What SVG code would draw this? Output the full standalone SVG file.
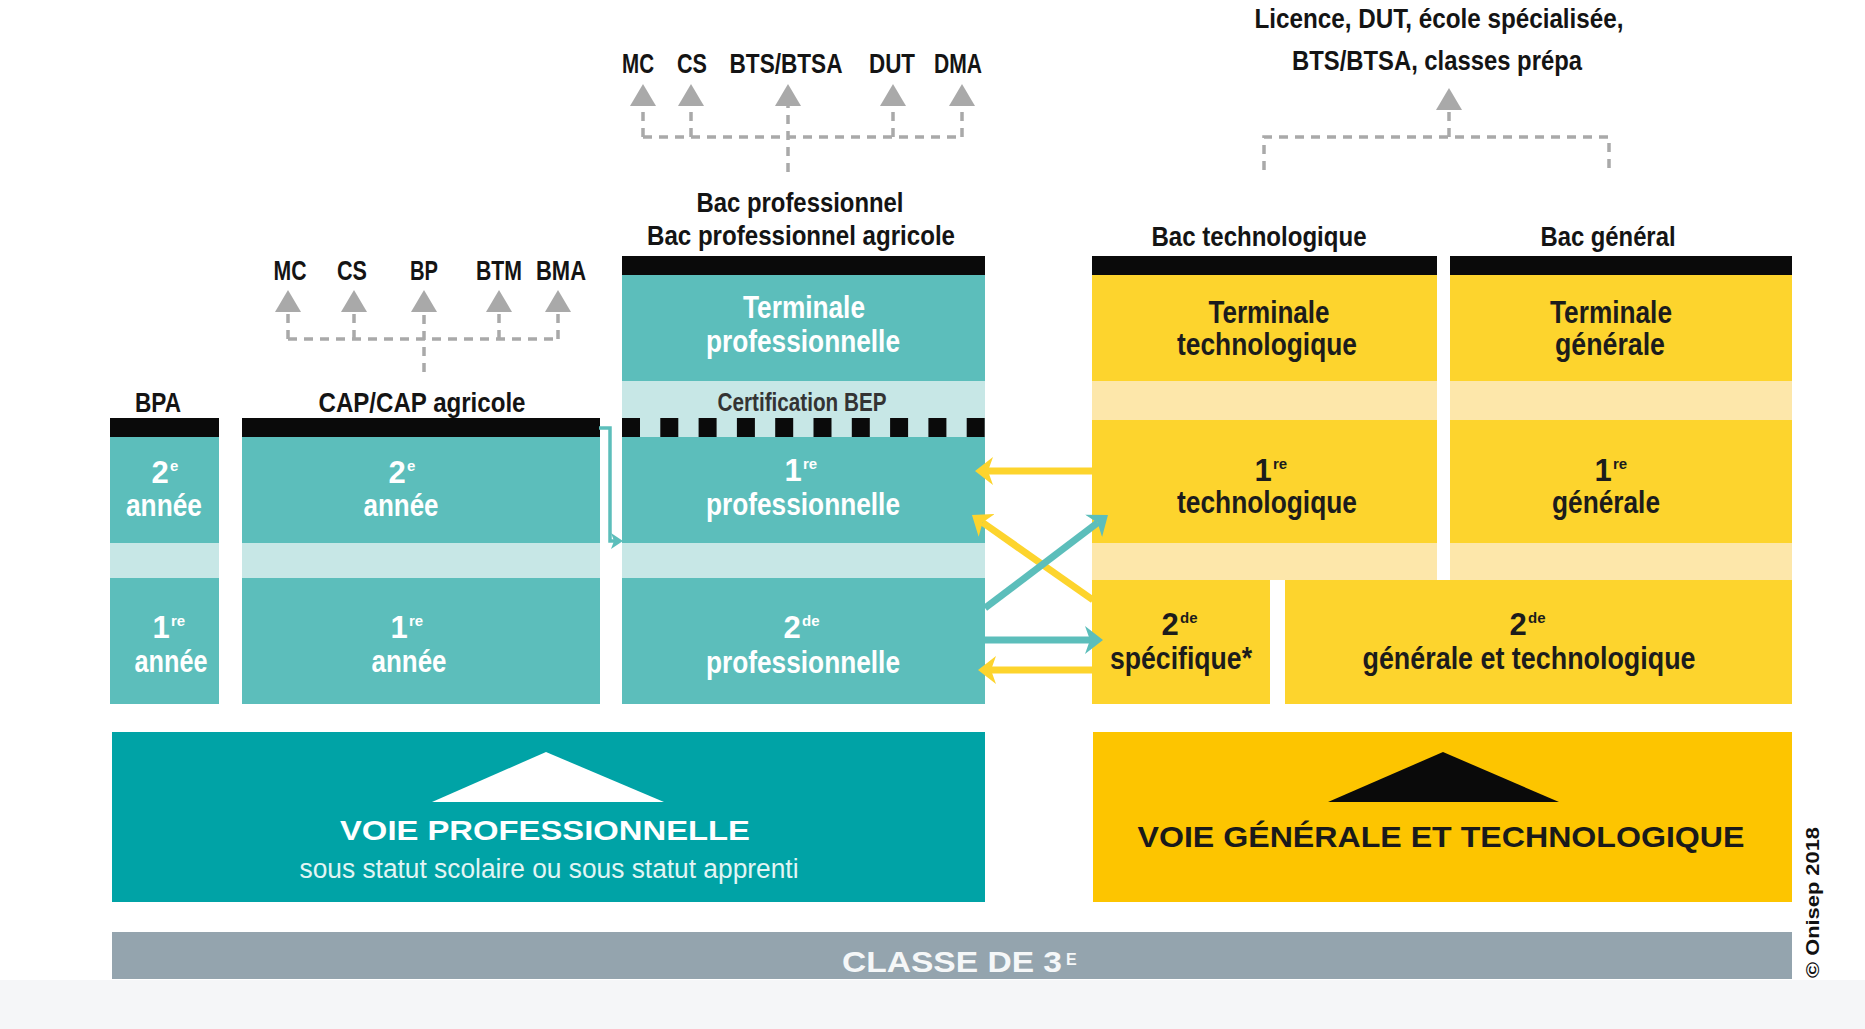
<svg xmlns="http://www.w3.org/2000/svg" width="1865" height="1029" viewBox="0 0 1865 1029">
  <defs>
    <style>
      text { font-family: "Liberation Sans Narrow", "Liberation Sans", Arial, sans-serif; font-weight: 700; text-anchor: middle; }
      .lbl { font-size: 28px; fill: #141414; }
      .lbl2 { font-size: 28px; fill: #141414; }
      .wt { font-size: 31px; fill: #ffffff; }
      .dk { font-size: 31px; fill: #1c1c1c; }
      .supw { font-size: 15px; fill: #ffffff; text-anchor: start; }
      .supd { font-size: 15px; fill: #1c1c1c; text-anchor: start; }
      .teal { fill: #5cbebb; }
      .tealL { fill: #c7e7e6; }
      .yel { fill: #fdd42d; }
      .yelL { fill: #fde7aa; }
      .bar { fill: #0a0a0a; }
      .gdash { fill: none; stroke: #a9a9a9; stroke-width: 3.5; stroke-dasharray: 9 7; }
      .ya { fill: none; stroke: #fdd42d; stroke-width: 7; }
      .ta { fill: none; stroke: #5cbebb; stroke-width: 7; }
    </style>
    <marker id="gArrow" viewBox="0 0 22 26" refX="0" refY="13" markerWidth="22" markerHeight="26" markerUnits="userSpaceOnUse" orient="auto">
      <path d="M0,0 L22,13 L0,26 z" fill="#a9a9a9"/>
    </marker>
    <marker id="yArrow" viewBox="0 0 18 28" refX="5" refY="14" markerWidth="18" markerHeight="28" markerUnits="userSpaceOnUse" orient="auto">
      <path d="M0,0 L18,14 L0,28 L5,14 z" fill="#fdd42d"/>
    </marker>
    <marker id="tArrow" viewBox="0 0 18 28" refX="5" refY="14" markerWidth="18" markerHeight="28" markerUnits="userSpaceOnUse" orient="auto">
      <path d="M0,0 L18,14 L0,28 L5,14 z" fill="#5cbebb"/>
    </marker>
    <marker id="tArrowS" viewBox="0 0 12 16" refX="3" refY="8" markerWidth="12" markerHeight="16" markerUnits="userSpaceOnUse" orient="auto">
      <path d="M0,0 L12,8 L0,16 L3,8 z" fill="#5cbebb"/>
    </marker>
  </defs>

  <rect x="0" y="0" width="1865" height="1029" fill="#ffffff"/>
  <rect x="0" y="980" width="1865" height="49" fill="#f5f6f8"/>

  <!-- Top outcome labels -->
  <g id="labels-top-pro">
    <text class="lbl" x="638" y="73" textLength="32" lengthAdjust="spacingAndGlyphs">MC</text>
    <text class="lbl" x="692" y="73" textLength="30" lengthAdjust="spacingAndGlyphs">CS</text>
    <text class="lbl" x="786" y="73" textLength="113" lengthAdjust="spacingAndGlyphs">BTS/BTSA</text>
    <text class="lbl" x="892" y="73" textLength="46" lengthAdjust="spacingAndGlyphs">DUT</text>
    <text class="lbl" x="958" y="73" textLength="48" lengthAdjust="spacingAndGlyphs">DMA</text>
  </g>
  <g id="labels-top-cap">
    <text class="lbl" x="290" y="280" textLength="33" lengthAdjust="spacingAndGlyphs">MC</text>
    <text class="lbl" x="352" y="280" textLength="30" lengthAdjust="spacingAndGlyphs">CS</text>
    <text class="lbl" x="424" y="280" textLength="28" lengthAdjust="spacingAndGlyphs">BP</text>
    <text class="lbl" x="499" y="280" textLength="46" lengthAdjust="spacingAndGlyphs">BTM</text>
    <text class="lbl" x="561" y="280" textLength="50" lengthAdjust="spacingAndGlyphs">BMA</text>
  </g>
  <g id="labels-top-gt">
    <text class="lbl2" x="1439" y="28" textLength="369" lengthAdjust="spacingAndGlyphs">Licence, DUT, école spécialisée,</text>
    <text class="lbl2" x="1437" y="70" textLength="290" lengthAdjust="spacingAndGlyphs">BTS/BTSA, classes prépa</text>
  </g>

  <!-- BPA column -->
  <g id="bpa">
    <text class="lbl2" x="158" y="412" textLength="46" lengthAdjust="spacingAndGlyphs">BPA</text>
    <rect class="bar" x="110" y="418" width="109" height="19"/>
    <rect class="teal" x="110" y="437" width="109" height="106"/>
    <rect class="tealL" x="110" y="543" width="109" height="35"/>
    <rect class="teal" x="110" y="578" width="109" height="126"/>
    <text class="wt" x="160" y="483">2</text><text class="supw" x="170" y="471">e</text>
    <text class="wt" x="164" y="516" textLength="76" lengthAdjust="spacingAndGlyphs">année</text>
    <text class="wt" x="161" y="638">1</text><text class="supw" x="171" y="626">re</text>
    <text class="wt" x="171" y="672" textLength="73" lengthAdjust="spacingAndGlyphs">année</text>
  </g>

  <!-- CAP column -->
  <g id="cap">
    <text class="lbl2" x="422" y="412" textLength="207" lengthAdjust="spacingAndGlyphs">CAP/CAP agricole</text>
    <rect class="bar" x="242" y="418" width="358" height="19"/>
    <rect class="teal" x="242" y="437" width="358" height="106"/>
    <rect class="tealL" x="242" y="543" width="358" height="35"/>
    <rect class="teal" x="242" y="578" width="358" height="126"/>
    <text class="wt" x="397" y="483">2</text><text class="supw" x="407" y="471">e</text>
    <text class="wt" x="401" y="516" textLength="75" lengthAdjust="spacingAndGlyphs">année</text>
    <text class="wt" x="399" y="638">1</text><text class="supw" x="409" y="626">re</text>
    <text class="wt" x="409" y="672" textLength="75" lengthAdjust="spacingAndGlyphs">année</text>
  </g>

  <!-- Bac pro column -->
  <g id="bacpro">
    <text class="lbl" x="800" y="212" textLength="207" lengthAdjust="spacingAndGlyphs">Bac professionnel</text>
    <text class="lbl" x="801" y="245" textLength="308" lengthAdjust="spacingAndGlyphs">Bac professionnel agricole</text>
    <rect class="bar" x="622" y="256" width="363" height="19"/>
    <rect class="teal" x="622" y="275" width="363" height="106"/>
    <rect class="tealL" x="622" y="381" width="363" height="56"/>
    <line x1="622" y1="427.5" x2="985" y2="427.5" stroke="#0a0a0a" stroke-width="19" stroke-dasharray="18 20.3"/>
    <rect class="teal" x="622" y="437" width="363" height="106"/>
    <rect class="tealL" x="622" y="543" width="363" height="35"/>
    <rect class="teal" x="622" y="578" width="363" height="126"/>
    <text class="wt" x="804" y="318" textLength="122" lengthAdjust="spacingAndGlyphs">Terminale</text>
    <text class="wt" x="803" y="352" textLength="194" lengthAdjust="spacingAndGlyphs">professionnelle</text>
    <text x="802" y="411" font-size="25" fill="#333333" textLength="169" lengthAdjust="spacingAndGlyphs">Certification BEP</text>
    <text class="wt" x="793" y="481">1</text><text class="supw" x="803" y="469">re</text>
    <text class="wt" x="803" y="515" textLength="194" lengthAdjust="spacingAndGlyphs">professionnelle</text>
    <text class="wt" x="792" y="638">2</text><text class="supw" x="802" y="626">de</text>
    <text class="wt" x="803" y="673" textLength="194" lengthAdjust="spacingAndGlyphs">professionnelle</text>
  </g>

  <!-- Bac techno column -->
  <g id="bactechno">
    <text class="lbl2" x="1259" y="246" textLength="215" lengthAdjust="spacingAndGlyphs">Bac technologique</text>
    <rect class="bar" x="1092" y="256" width="345" height="19"/>
    <rect class="yel" x="1092" y="275" width="345" height="106"/>
    <rect class="yelL" x="1092" y="381" width="345" height="39"/>
    <rect class="yel" x="1092" y="420" width="345" height="123"/>
    <rect class="yelL" x="1092" y="543" width="345" height="37"/>
    <text class="dk" x="1269" y="323" textLength="121" lengthAdjust="spacingAndGlyphs">Terminale</text>
    <text class="dk" x="1267" y="355" textLength="180" lengthAdjust="spacingAndGlyphs">technologique</text>
    <text class="dk" x="1263" y="481">1</text><text class="supd" x="1273" y="469">re</text>
    <text class="dk" x="1267" y="513" textLength="180" lengthAdjust="spacingAndGlyphs">technologique</text>
  </g>

  <!-- Bac general column -->
  <g id="bacgeneral">
    <text class="lbl2" x="1608" y="246" textLength="135" lengthAdjust="spacingAndGlyphs">Bac général</text>
    <rect class="bar" x="1450" y="256" width="342" height="19"/>
    <rect class="yel" x="1450" y="275" width="342" height="106"/>
    <rect class="yelL" x="1450" y="381" width="342" height="39"/>
    <rect class="yel" x="1450" y="420" width="342" height="123"/>
    <rect class="yelL" x="1450" y="543" width="342" height="37"/>
    <text class="dk" x="1611" y="323" textLength="122" lengthAdjust="spacingAndGlyphs">Terminale</text>
    <text class="dk" x="1610" y="355" textLength="110" lengthAdjust="spacingAndGlyphs">générale</text>
    <text class="dk" x="1603" y="481">1</text><text class="supd" x="1613" y="469">re</text>
    <text class="dk" x="1606" y="513" textLength="108" lengthAdjust="spacingAndGlyphs">générale</text>
  </g>

  <!-- 2de specifique -->
  <g id="seconde-specifique">
    <rect class="yel" x="1092" y="580" width="178" height="124"/>
    <text class="dk" x="1170" y="635">2</text><text class="supd" x="1180" y="623">de</text>
    <text class="dk" x="1181" y="669" textLength="142" lengthAdjust="spacingAndGlyphs">spécifique*</text>
  </g>

  <!-- 2de generale et technologique -->
  <g id="seconde-gt">
    <rect class="yel" x="1285" y="580" width="507" height="124"/>
    <text class="dk" x="1518" y="635">2</text><text class="supd" x="1528" y="623">de</text>
    <text class="dk" x="1529" y="669" textLength="333" lengthAdjust="spacingAndGlyphs">générale et technologique</text>
  </g>

  <!-- Voie professionnelle -->
  <g id="voie-pro">
    <rect x="112" y="732" width="873" height="170" fill="#00a3a6"/>
    <polygon points="546,752 432,802 664,802" fill="#ffffff"/>
    <text x="545" y="840" font-size="28" fill="#ffffff" textLength="410" lengthAdjust="spacingAndGlyphs">VOIE PROFESSIONNELLE</text>
    <text x="549" y="878" font-size="27" fill="#e2f5f4" style="font-weight:400" textLength="499" lengthAdjust="spacingAndGlyphs">sous statut scolaire ou sous statut apprenti</text>
  </g>

  <!-- Voie generale et technologique -->
  <g id="voie-gt">
    <rect x="1093" y="732" width="699" height="170" fill="#fdc500"/>
    <polygon points="1443,752 1328,802 1559,802" fill="#0a0a0a"/>
    <text x="1441" y="847" font-size="30" fill="#1a1a1a" textLength="607" lengthAdjust="spacingAndGlyphs">VOIE GÉNÉRALE ET TECHNOLOGIQUE</text>
  </g>

  <!-- Classe de 3e -->
  <g id="classe-3e">
    <rect x="112" y="932" width="1680" height="47" fill="#94a4ae"/>
    <text x="842" y="972" font-size="30" fill="#f5f7f8" style="text-anchor:start" textLength="220" lengthAdjust="spacingAndGlyphs">CLASSE DE 3</text>
    <text x="1066" y="965" font-size="16" fill="#f5f7f8" style="text-anchor:start">E</text>
  </g>

  <!-- Connectors -->
  <g id="connectors">
    <path class="gdash" d="M643,137 H962"/>
    <path class="gdash" d="M643,137 V106" marker-end="url(#gArrow)"/>
    <path class="gdash" d="M691,137 V106" marker-end="url(#gArrow)"/>
    <path class="gdash" d="M788,172 V106" marker-end="url(#gArrow)"/>
    <path class="gdash" d="M893,137 V106" marker-end="url(#gArrow)"/>
    <path class="gdash" d="M962,137 V106" marker-end="url(#gArrow)"/>
    <path class="gdash" d="M288,339 H558"/>
    <path class="gdash" d="M288,339 V312" marker-end="url(#gArrow)"/>
    <path class="gdash" d="M354,339 V312" marker-end="url(#gArrow)"/>
    <path class="gdash" d="M424,372 V312" marker-end="url(#gArrow)"/>
    <path class="gdash" d="M499,339 V312" marker-end="url(#gArrow)"/>
    <path class="gdash" d="M558,339 V312" marker-end="url(#gArrow)"/>
    <path class="gdash" d="M1264,170 V137 H1609 V170"/>
    <path class="gdash" d="M1449,137 V110" marker-end="url(#gArrow)"/>
    <path d="M599,428 H610 V541 H614" fill="none" stroke="#5cbebb" stroke-width="3.5" marker-end="url(#tArrowS)"/>
    <path class="ya" d="M1093,471 H988" marker-end="url(#yArrow)"/>
    <path class="ya" d="M1093,600 L982.6,522.5" marker-end="url(#yArrow)"/>
    <path class="ta" d="M985,608 L1097.6,522.8" marker-end="url(#tArrow)"/>
    <path class="ta" d="M985,640 H1090" marker-end="url(#tArrow)"/>
    <path class="ya" d="M1093,670 H991" marker-end="url(#yArrow)"/>
  </g>

  <text x="1819" y="978" font-size="18" fill="#111111" style="text-anchor:start;font-family:'Liberation Sans',Arial,sans-serif" transform="rotate(-90 1819 978)" textLength="151" lengthAdjust="spacingAndGlyphs">© Onisep 2018</text>
</svg>
